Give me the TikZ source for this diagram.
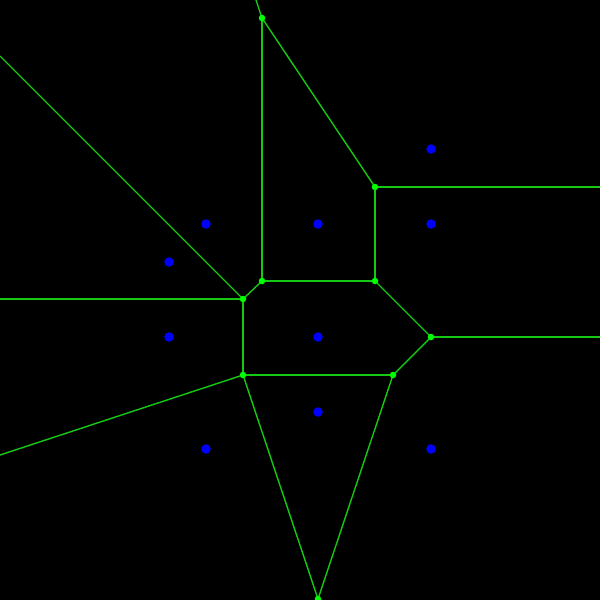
\documentclass[tikz,border=0pt]{standalone}
\usepackage{tikz}
\usetikzlibrary{backgrounds}
\definecolor{edgegreen}{RGB}{20,200,20}
\definecolor{vertgreen}{RGB}{0,255,0}
\definecolor{siteblue}{RGB}{0,0,255}
\tikzset{
  vert/.style={circle,fill=vertgreen,inner sep=0pt,minimum size=0.065cm},
  site/.style={circle,fill=siteblue,inner sep=0pt,minimum size=0.095cm},
  edge/.style={edgegreen,line width=0.4pt}
}
\begin{document}
\begin{tikzpicture}[x=0.01cm,y=-0.01cm]
    \useasboundingbox (0,0) rectangle (600,600);
    % свободные концы рёбер
    \coordinate (top) at (256,0);
    \coordinate (right1) at (600,187);
    \coordinate (right2) at (600,337);
    \coordinate (left1) at (0,56);
    \coordinate (left2) at (0,299);
    \coordinate (left3) at (0,455);
    % вершины диаграммы
    \node[vert] (a) at (262,18) {};
    \node[vert] (b) at (375,187) {};
    \node[vert] (c) at (262,281) {};
    \node[vert] (d) at (375,281) {};
    \node[vert] (e) at (243,299) {};
    \node[vert] (f) at (431,337) {};
    \node[vert] (g) at (243,375) {};
    \node[vert] (h) at (393,375) {};
    \node[vert] (i) at (318,599) {};
    % точки
    \foreach \x/\y [count=\k] in {431/149,206/224,318/224,431/224,169/262,
                                  169/337,318/337,318/412,206/449,431/449}{
      \node[site] (s\k) at (\x,\y) {};}
    % фон и рёбра
    \begin{scope}[on background layer]
      \fill[black] (0,0) rectangle (600,600);
      \foreach \u/\v in {top/a,a/b,a/c,b/right1,b/d,c/d,c/e,left1/e,left2/e,
                         e/g,d/f,f/right2,f/h,g/h,left3/g,g/i,h/i}{
        \draw[edge] (\u.center) -- (\v.center);}
    \end{scope}
\end{tikzpicture}
\end{document}
